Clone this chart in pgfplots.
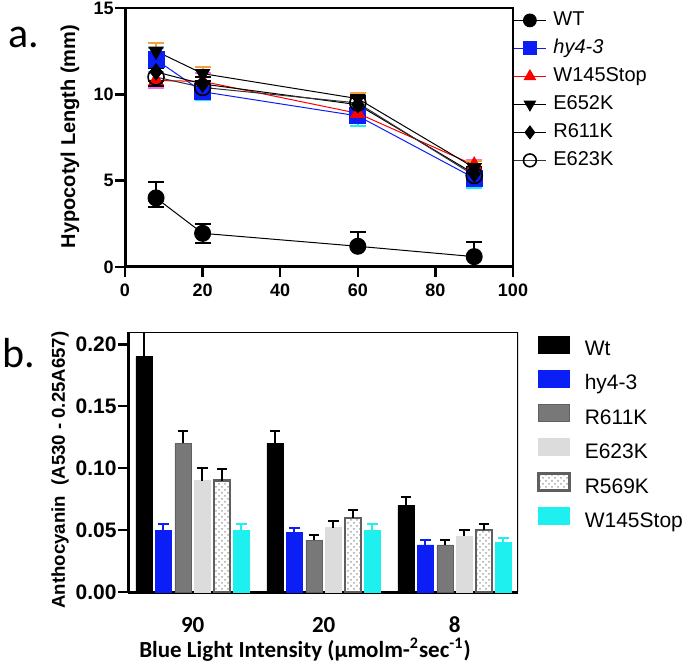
\documentclass[border=0pt]{standalone}
\usepackage{fontspec}
\setmainfont{Liberation Sans}
\newfontfamily\carlito{Carlito}
\usepackage{pgfplots}
\pgfplotsset{compat=1.18}
\usetikzlibrary{patterns}

\definecolor{hyblue}{RGB}{10,30,245}
\definecolor{wcyan}{RGB}{30,240,240}
\definecolor{rgray}{RGB}{120,120,120}
\definecolor{egray}{RGB}{220,220,220}
\definecolor{dgray}{RGB}{95,95,95}
\definecolor{errorange}{RGB}{245,160,60}
\definecolor{errpink}{RGB}{240,110,240}

\pgfplotsset{
  gpstyle/.style={
    scale only axis,
    axis x line*=bottom, axis y line*=left,
    axis line style={line width=1.5pt},
    tick align=outside, major tick length=5pt,
    tick style={line width=1.2pt, black},
    /pgf/number format/assume math mode=true,
  },
}

\begin{document}
\begin{tikzpicture}
\path[use as bounding box] (0,0) rectangle (342.5pt,-333.5pt);

% ---------- a. hypocotyl length ----------
\begin{axis}[gpstyle,
  at={(62.5pt,-133.5pt)}, anchor=south west,
  width=194pt, height=129.5pt,
  xmin=0, xmax=100, ymin=0, ymax=15,
  xtick={0,20,...,100}, ytick={0,5,10,15},
  ticklabel style={font=\bfseries\fontsize{9}{10}\selectfont},
  yticklabel style={inner xsep=0.5pt},
  clip=false,
  legend style={at={(1,1)}, anchor=north west, yshift=-1.25pt,
    draw=none, fill=none, inner sep=0pt, row sep=4.5pt, column sep=3.5pt,
    font=\fontsize{10}{12}\selectfont,
    nodes={inner sep=0pt, text height=7.5pt, text depth=2pt, anchor=west}},
  legend cell align=left,
  legend image code/.code={\draw[mark repeat=2,mark phase=2,#1] plot coordinates {(0pt,0pt) (8pt,0pt) (16pt,0pt)};},
  legend image post style={mark size=3.2pt},
  error bars/y dir=both, error bars/y explicit,
  error bars/error mark options={rotate=90, mark size=4pt, line width=1pt},
  error bars/error bar style={line width=1pt},
]
\draw[line width=0.9pt] (rel axis cs:0,1) -- (rel axis cs:1,1) -- (rel axis cs:1,0);

\addplot[black, line width=0.5pt, mark=*, mark size=4pt,
  error bars/error bar style={black, line width=1pt}]
  coordinates {(8,4.0) += (0,0.9) -= (0,0.55) (20,1.95) +- (0,0.55) (60,1.2) += (0,0.8) (90,0.6) += (0,0.85)};
\addlegendentry{WT}

\addplot[hyblue, line width=0.5pt, mark=square*, mark size=4pt, mark options={fill=hyblue},
  error bars/error bar style={wcyan, line width=1pt}]
  coordinates {(8,12.0) +- (0,0.7) (20,10.15) +- (0,0.5) (60,8.75) +- (0,0.6) (90,5.15) +- (0,0.6)};
\addlegendentry{\itshape hy4-3}

\addplot[red, line width=0.5pt, mark=triangle*, mark size=4pt, mark options={fill=red},
  error bars/error bar style={errpink, line width=1pt}]
  coordinates {(8,10.8) +- (0,0.45) (20,10.75) +- (0,0.5) (60,8.9) +- (0,0.5) (90,5.9) +- (0,0.3)};
\addlegendentry{W145Stop}

\addplot[black, line width=0.5pt, mark=triangle*, mark size=4pt, mark options={rotate=180, fill=black},
  error bars/error bar style={errorange, line width=1pt}]
  coordinates {(8,12.5) +- (0,0.5) (20,11.2) +- (0,0.4) (60,9.75) +- (0,0.35) (90,5.75) +- (0,0.4)};
\addlegendentry{E652K}

\addplot[black, line width=0.5pt, mark=diamond*, mark size=4pt,
  error bars/error bar style={black, line width=1pt}]
  coordinates {(8,11.3) +- (0,0.5) (20,10.6) +- (0,0.4) (60,9.4) +- (0,0.4) (90,5.4) +- (0,0.4)};
\addlegendentry{R611K}

\addplot[black!80, line width=0.5pt, mark=o, mark size=4pt, mark options={black, fill=white, line width=0.8pt},
  error bars/error bar style={black, line width=1pt}]
  coordinates {(8,11.0) +- (0,0.5) (20,10.4) +- (0,0.4) (60,9.5) +- (0,0.4) (90,5.3) +- (0,0.4)};
\addlegendentry{E623K}
\end{axis}

% ---------- b. anthocyanin ----------
\begin{axis}[gpstyle,
  at={(64pt,-296pt)}, anchor=south west,
  width=195pt, height=130pt,
  xmin=-0.494, xmax=2.483, ymin=0, ymax=0.21,
  ybar=1.75pt, bar width=8pt,
  xtick={0,1,2}, xticklabels={90,20,8},
  major x tick style={draw=none},
  xticklabel style={font=\carlito\bfseries\fontsize{11.5}{12}\selectfont, yshift=-4pt},
  ytick={0,0.05,0.10,0.15,0.20},
  yticklabel style={font=\bfseries\fontsize{10.5}{11}\selectfont, inner xsep=0.5pt,
    /pgf/number format/.cd, fixed, fixed zerofill, precision=2},
  legend style={at={(1,1)}, anchor=north west, xshift=9.5pt, yshift=-1.75pt,
    draw=none, fill=none, inner sep=0pt, row sep=5.1pt, column sep=7pt,
    font=\fontsize{10.5}{12}\selectfont,
    nodes={inner sep=0pt, text height=7.5pt, text depth=2pt, anchor=west}},
  legend cell align=left,
  legend image code/.code={\draw[#1] (0pt,-1.5pt) rectangle (15.5pt,7pt);},
  error bars/y dir=plus, error bars/y explicit,
  error bars/error mark options={rotate=90, mark size=2.6pt, line width=1pt},
  error bars/error bar style={line width=1pt},
]
\draw[line width=0.9pt] (rel axis cs:0,1) -- (rel axis cs:1,1) -- (rel axis cs:1,0);

\addplot[fill=black, draw=black, error bars/error bar style={black, line width=1pt}]
  coordinates {(0,0.19) +- (0,0.02) (1,0.12) +- (0,0.01) (2,0.07) +- (0,0.007)};
\addlegendentry{Wt}
\addplot[fill=hyblue, draw=hyblue, error bars/error bar style={hyblue, line width=1pt}]
  coordinates {(0,0.05) +- (0,0.005) (1,0.048) +- (0,0.004) (2,0.038) +- (0,0.004)};
\addlegendentry{hy4-3}
\addplot[fill=rgray, draw=rgray!80!black, error bars/error bar style={black, line width=1pt}]
  coordinates {(0,0.12) +- (0,0.01) (1,0.042) +- (0,0.004) (2,0.038) +- (0,0.004)};
\addlegendentry{R611K}
\addplot[fill=egray, draw=egray, error bars/error bar style={black, line width=1pt}]
  coordinates {(0,0.09) +- (0,0.01) (1,0.052) +- (0,0.005) (2,0.045) +- (0,0.005)};
\addlegendentry{E623K}
\addplot[fill=white, draw=dgray, line width=1.2pt,
  postaction={pattern=crosshatch dots, pattern color=gray!70},
  error bars/error bar style={black, line width=1pt}]
  coordinates {(0,0.09) +- (0,0.009) (1,0.06) +- (0,0.006) (2,0.05) +- (0,0.005)};
\addlegendentry{R569K}
\addplot[fill=wcyan, draw=wcyan, error bars/error bar style={wcyan, line width=1pt}]
  coordinates {(0,0.05) +- (0,0.005) (1,0.05) +- (0,0.005) (2,0.04) +- (0,0.004)};
\addlegendentry{W145Stop}
\end{axis}

% ---------- labels ----------
\node[rotate=90, font=\bfseries\fontsize{10}{12}\selectfont] at (35pt,-68.25pt) {Hypocotyl Length (mm)};
\node[rotate=90, font=\bfseries\fontsize{9.3}{11}\selectfont] at (30pt,-235pt) {Anthocyanin\ \ (A530 - 0.25A657)};
\node[font=\carlito\bfseries\fontsize{11.5}{13}\selectfont] at (152.5pt,-325pt) {Blue Light Intensity (\textmu molm-\textsuperscript{2}sec\textsuperscript{-1})};
\node[font=\carlito\fontsize{21}{24}\selectfont, anchor=base west, inner sep=0pt] at (4pt,-24pt) {a.};
\node[font=\carlito\fontsize{21}{24}\selectfont, anchor=base west, inner sep=0pt] at (1pt,-184pt) {b.};
\end{tikzpicture}
\end{document}
